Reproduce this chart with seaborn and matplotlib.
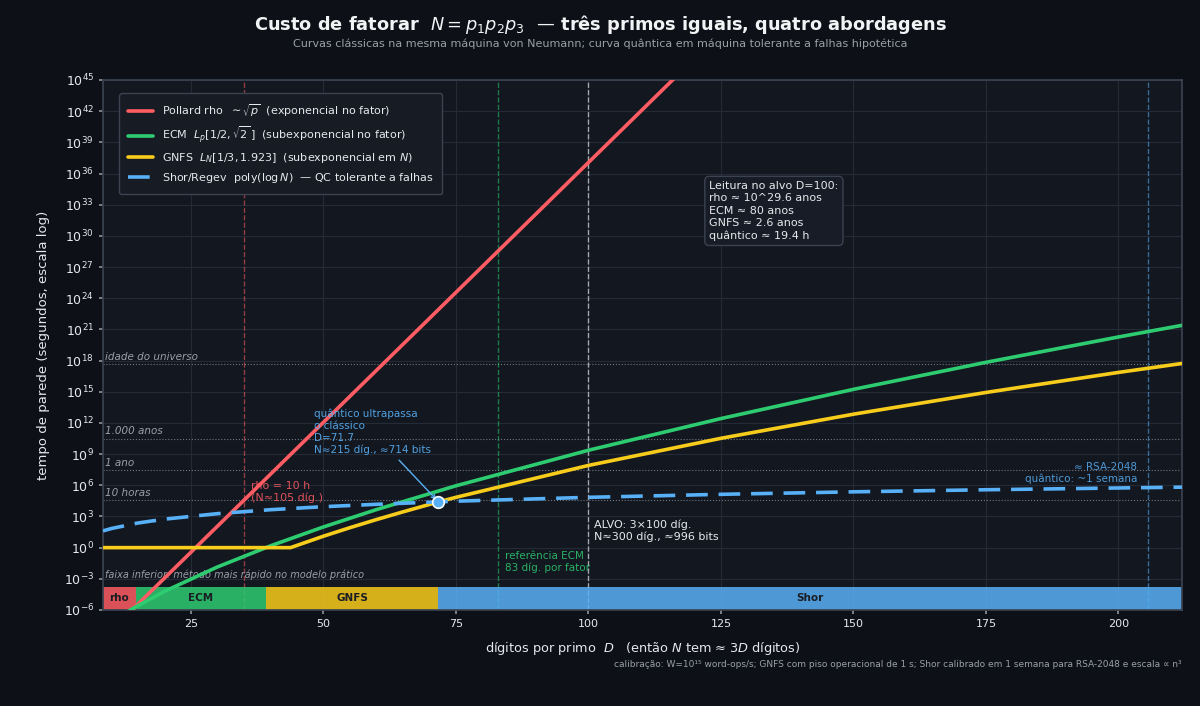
import numpy as np
import matplotlib
matplotlib.use("Agg")
import matplotlib.pyplot as plt
import seaborn as sns
from matplotlib.ticker import LogFormatterMathtext, NullLocator

# digits per prime D and log10(seconds)
rho_d = [10, 20, 35, 50, 75, 100, 120]
rho_log = [-7.94, -2.94, 4.56, 12.06, 24.56, 37.06, 47.06]

ecm_d = [8.4, 14, 20, 30, 40, 50, 60, 75, 100, 125, 150, 175, 200, 212]
ecm_log = [-7.72, -5.87, -4.21, -1.86, 0.17, 1.99, 3.66, 5.95, 9.37, 12.42, 15.23, 17.83, 20.27, 21.39]

gnfs_d = [8.4, 20, 30, 43.8, 50, 55, 60, 65, 71.7, 75, 100, 125, 150, 175, 200, 212]
gnfs_log = [0, 0, 0, 0, 1.10, 1.92, 2.70, 3.44, 4.40, 4.84, 7.91, 10.52, 12.84, 14.93, 16.86, 17.72]

shor_d = [8.4, 10, 15, 20, 30, 40, 50, 60, 75, 100, 125, 150, 175, 200, 212]
shor_log = [1.61, 1.84, 2.37, 2.74, 3.27, 3.65, 3.94, 4.17, 4.47, 4.84, 5.13, 5.37, 5.57, 5.74, 5.82]

labels = [
    r"Pollard rho  $\sim\sqrt{p}$  (exponencial no fator)",
    r"ECM  $L_p[1/2,\sqrt{2}\,]$  (subexponencial no fator)",
    r"GNFS  $L_N[1/3, 1.923]$  (subexponencial em $N$)",
    r"Shor/Regev  poly$(\log N)$  — QC tolerante a falhas",
]
colors = ["#ff5c63", "#2ecc71", "#f8cc1b", "#58b0f6"]

# fastest-method band along the bottom
band_edges = [8.4, 14.6, 39.2, 71.7, 212]
band_names = ["rho", "ECM", "GNFS", "Shor"]

# reference times (log10 seconds)
ref_log = [17.64, 10.5, 7.5, 4.56]
ref_names = ["idade do universo", "1.000 anos", "1 ano", "10 horas"]

cross_d, cross_log = 71.7, 4.41
rho10h_d, ecm_rec_d, target_d, rsa_d = 35, 83, 100, 205.67

fig_bg = "#0d1017"
ax_bg = "#131720"
txt = "#e6e8eb"
muted = "#9aa0a8"

sns.set_theme(style="dark")
plt.rcParams.update({
    "figure.facecolor": fig_bg,
    "axes.facecolor": ax_bg,
    "axes.edgecolor": "#3b4250",
    "axes.labelcolor": txt,
    "xtick.color": txt,
    "ytick.color": txt,
    "text.color": txt,
    "grid.color": "#252b36",
    "font.family": ["DejaVu Sans"],
})

fig = plt.figure(figsize=(12, 7.06), dpi=100)
ax = fig.add_axes([0.0858, 0.136, 0.8992, 0.7507])

series = [(rho_d, rho_log), (ecm_d, ecm_log), (gnfs_d, gnfs_log), (shor_d, shor_log)]
for (d, lg), lab, c in zip(series, labels, colors):
    sns.lineplot(x=d, y=10.0 ** np.array(lg), ax=ax, color=c, lw=2.6, label=lab, zorder=4)
ax.lines[-1].set_dashes([6, 3])

ax.set_yscale("log")
ax.set_xlim(8.4, 212)
ax.set_ylim(1e-6, 1e45)
ax.set_yticks([10.0 ** k for k in range(-6, 46, 3)])
ax.yaxis.set_major_formatter(LogFormatterMathtext())
ax.yaxis.set_minor_locator(NullLocator())
ax.set_xticks([25, 50, 75, 100, 125, 150, 175, 200])
ax.grid(True, which="major", color="#252b36", lw=0.8)
ax.tick_params(axis="y", labelsize=9, length=3, color="#8a8f98", left=True)
ax.tick_params(axis="x", labelsize=8, length=3, color="#8a8f98", bottom=True)
for s in ax.spines.values():
    s.set_color("#3b4250")

# bottom band
for i, name in enumerate(band_names):
    x0, x1 = band_edges[i], band_edges[i + 1]
    ax.axvspan(x0, x1, ymin=0, ymax=0.044, color=colors[i], alpha=0.85, lw=0, zorder=2)
    ax.text((x0 + x1) / 2, 0.022, name, transform=ax.get_xaxis_transform(),
            ha="center", va="center", fontsize=7.5, fontweight="bold", color="#1a1d24", zorder=3)

# reference horizontal lines
for lg, name in zip(ref_log, ref_names):
    ax.axhline(10.0 ** lg, color="#8a8f98", lw=0.8, ls=":", alpha=0.8, zorder=1)
    ax.text(8.7, 10.0 ** (lg + 0.2), name, fontsize=7.5, style="italic",
            color=muted, ha="left", va="bottom")
ax.text(8.7, 10.0 ** -2.64, "faixa inferior: método mais rápido no modelo prático",
        fontsize=7, style="italic", color=muted, ha="left", va="center", zorder=3)

# vertical markers
ax.axvline(rho10h_d, color="#ff5c63", lw=1, ls="--", alpha=0.55, zorder=1)
ax.axvline(ecm_rec_d, color="#2ecc71", lw=1, ls="--", alpha=0.55, zorder=1)
ax.axvline(target_d, color="#d0d4da", lw=1, ls="--", alpha=0.75, zorder=1)
ax.axvline(rsa_d, color="#58b0f6", lw=1, ls="--", alpha=0.55, zorder=1)

# annotations
ax.text(36.3, 10.0 ** 6.4, "rho = 10 h\n(N≈105 díg.)", color="#ff5c63", alpha=0.85,
        fontsize=8, ha="left", va="top", zorder=5)
ax.text(101.1, 10.0 ** 2.75, "ALVO: 3×100 díg.\nN≈300 díg., ≈996 bits", color=txt,
        fontsize=8, ha="left", va="top", zorder=5)
ax.text(84.3, 10.0 ** -0.33, "referência ECM\n83 díg. por fator", color="#2ecc71",
        alpha=0.85, fontsize=7.5, ha="left", va="top", zorder=5)
ax.text(203.5, 10.0 ** 8.23, "≈ RSA-2048\nquântico: ~1 semana", color="#58b0f6",
        alpha=0.85, fontsize=7.5, ha="right", va="top", zorder=5)
ax.annotate("quântico ultrapassa\no clássico\nD=71.7\nN≈215 díg., ≈714 bits",
            xy=(cross_d, 10.0 ** cross_log), xytext=(48.2, 10.0 ** 13.35),
            color="#58b0f6", alpha=0.9, fontsize=7.5, ha="left", va="top", zorder=5,
            arrowprops=dict(arrowstyle="->", color="#58b0f6", lw=1))
ax.scatter([cross_d], [10.0 ** cross_log], s=70, color="#58b0f6",
           edgecolor="white", linewidth=1.2, zorder=6)
ax.text(122.8, 10.0 ** 35.3,
        "Leitura no alvo D=100:\nrho ≈ 10^29.6 anos\nECM ≈ 80 anos\nGNFS ≈ 2.6 anos\nquântico ≈ 19.4 h",
        fontsize=8, color=txt, ha="left", va="top", zorder=5, linespacing=1.3,
        bbox=dict(boxstyle="round,pad=0.4", facecolor="#171c26", edgecolor="#3b4250"))

leg = ax.legend(loc="upper left", bbox_to_anchor=(0.01, 0.985), fontsize=8,
                frameon=True, facecolor="#161b24", edgecolor="#3b4250",
                framealpha=1, borderpad=0.8, labelspacing=0.5, handlelength=2.2)
for t in leg.get_texts():
    t.set_color(txt)
leg.set_zorder(7)

ax.set_xlabel(r"dígitos por primo  $D$   (então $N$ tem ≈ $3D$ dígitos)", fontsize=9.3, labelpad=8)
ax.set_ylabel("tempo de parede (segundos, escala log)", fontsize=9.5, labelpad=10)

fig.text(0.5, 0.965, r"Custo de fatorar  $N = p_1p_2p_3$  — três primos iguais, quatro abordagens",
         ha="center", va="center", fontsize=12.8, fontweight="bold", color="#f2f3f5")
fig.text(0.5, 0.938, "Curvas clássicas na mesma máquina von Neumann; curva quântica em máquina tolerante a falhas hipotética",
         ha="center", va="center", fontsize=8, color=muted)
fig.text(0.985, 0.059, "calibração: W=10¹⁵ word-ops/s; GNFS com piso operacional de 1 s; Shor calibrado em 1 semana para RSA-2048 e escala ∝ n³",
         ha="right", va="center", fontsize=6.5, color=muted)

fig.savefig("out.png", dpi=100, facecolor=fig_bg)
